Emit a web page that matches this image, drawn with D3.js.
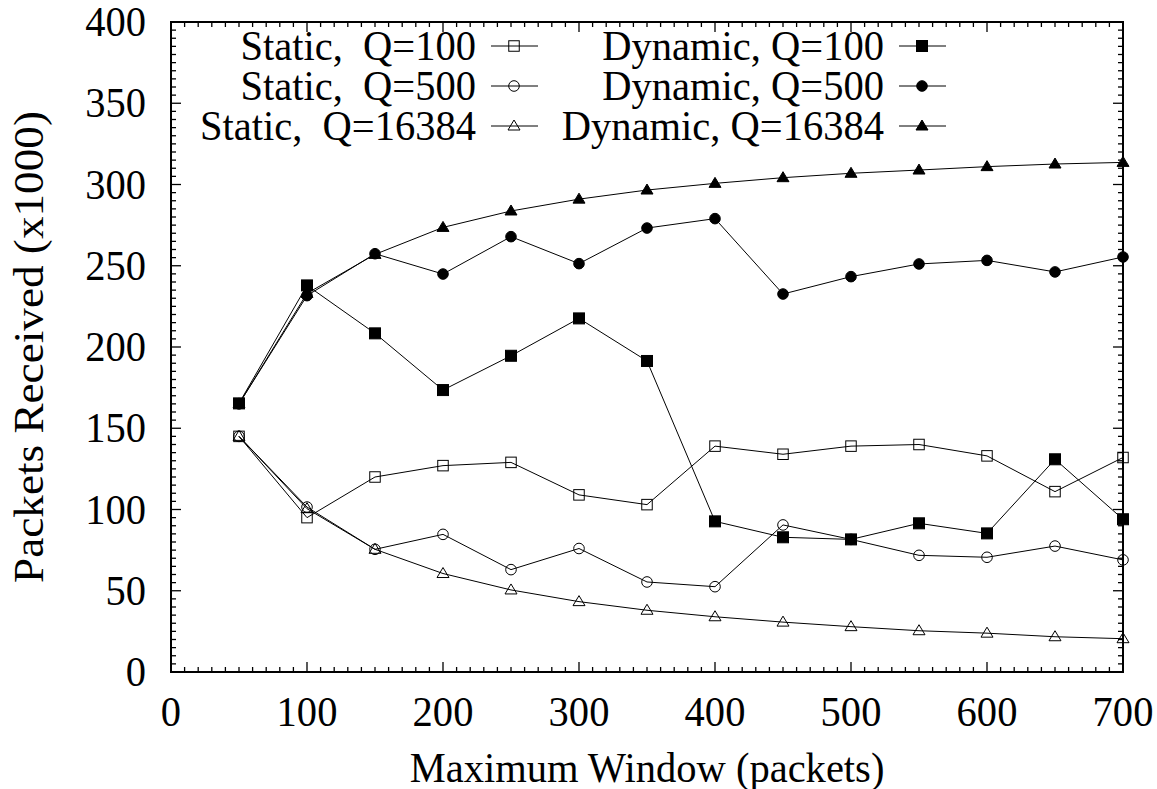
<!DOCTYPE html>
<html>
<head>
<meta charset="utf-8">
<script src="https://cdn.jsdelivr.net/npm/d3@7"></script>
<style>
  body { margin: 0; background: #fff; }
</style>
</head>
<body>
<div id="chart"></div>
<script>
// window sizes on the x axis
const windows = [50, 100, 150, 200, 250, 300, 350, 400, 450, 500, 550, 600, 650, 700];

// packets received (x1000)
const staticQ100 = [145, 95, 120, 127, 129, 109, 103, 139, 134, 139, 140, 133, 111, 132];
const staticQ500 = [145, 101.5, 75.5, 84.7, 63, 76, 55.4, 52.5, 90.5, 81.6, 71.8, 70.6, 77.5, 69];
const staticQ16384 = [145, 100.5, 75.5, 60.6, 50.5, 43.3, 38, 34, 30.7, 27.9, 25.4, 23.9, 21.7, 20.5];
const dynamicQ100 = [165.3, 237.9, 208.4, 173.5, 194.6, 217.6, 191.4, 92.7, 82.9, 81.6, 91.5, 85.3, 130.9, 94];
const dynamicQ500 = [165, 231.6, 257.4, 244.9, 267.9, 251.3, 273.2, 279, 232.6, 243.3, 251.1, 253.3, 246.2, 255.4];
const dynamicQ16384 = [165, 233, 257, 273.6, 283.7, 291, 296.6, 300.7, 304.2, 306.9, 308.9, 311, 312.6, 313.6];

const seriesNames = ["Static,  Q=100", "Static,  Q=500", "Static,  Q=16384",
                     "Dynamic, Q=100", "Dynamic, Q=500", "Dynamic, Q=16384"];
const seriesValues = [staticQ100, staticQ500, staticQ16384, dynamicQ100, dynamicQ500, dynamicQ16384];
const seriesMarks = ["square", "circle", "triangle", "square", "circle", "triangle"];
const seriesFilled = [false, false, false, true, true, true];

const xTicks = [0, 100, 200, 300, 400, 500, 600, 700];
const yTicks = [0, 50, 100, 150, 200, 250, 300, 350, 400];

var W = 1157, H = 789;
var margin = { top: 22, right: 34, bottom: 117, left: 171 };
var FS = 43;

// pick the first serif face that is really installed
function hasFont(name) {
    let ctx = document.createElement("canvas").getContext("2d");
    let s = "Maximum Window (packets) 0123456789";
    return ["monospace", "sans-serif"].some(base => {
        ctx.font = "40px " + base;
        let w0 = ctx.measureText(s).width;
        ctx.font = "40px '" + name + "', " + base;
        return ctx.measureText(s).width !== w0;
    });
}
var candidates = ["Liberation Serif", "Tinos", "Times New Roman", "Nimbus Roman", "Nimbus Roman No9 L",
                  "DejaVu Serif", "FreeSerif", "Noto Serif", "Noto Serif CJK SC", "Noto Serif CJK JP"];
var FONT = candidates.find(hasFont) || "Liberation Sans";
FONT = "'" + FONT + "', serif";

var svg = d3.select("#chart")
    .append("svg")
    .attr("width", W)
    .attr("height", H);

function naturalWidth(str) {
    let probe = svg.append("text").attr("font-family", FONT).attr("font-size", FS)
        .attr("xml:space", "preserve").text(str);
    let w = probe.node().getComputedTextLength();
    probe.remove();
    return w;
}

// horizontal squeeze so the x title spans as in the reference (~475px)
var SX = Math.min(1, 475 / naturalWidth("Maximum Window (packets)"));

var x = d3.scaleLinear().domain([0, 700]).range([margin.left, W - margin.right]);
var y = d3.scaleLinear().domain([0, 400]).range([H - margin.bottom, margin.top]);

var x0 = x.range()[0], x1 = x.range()[1];
var y0 = y.range()[0], y1 = y.range()[1];

// minor + major ticks, mirrored inward on all four sides
var ticks = svg.append("g").attr("stroke", "#000").attr("stroke-width", 1.3);
d3.range(0, 701, 10).forEach(v => {
    let len = v % 100 === 0 ? 10 : 5;
    ticks.append("line").attr("x1", x(v)).attr("x2", x(v)).attr("y1", y0).attr("y2", y0 - len);
    ticks.append("line").attr("x1", x(v)).attr("x2", x(v)).attr("y1", y1).attr("y2", y1 + len);
});
d3.range(0, 401, 5).forEach(v => {
    let len = v % 50 === 0 ? 10 : 5;
    ticks.append("line").attr("y1", y(v)).attr("y2", y(v)).attr("x1", x0).attr("x2", x0 + len);
    ticks.append("line").attr("y1", y(v)).attr("y2", y(v)).attr("x1", x1).attr("x2", x1 - len);
});

function label(g, tx, ty, str, anchor, rot, sx) {
    return g.append("text")
        .attr("transform", "translate(" + tx + "," + ty + ")" + (rot ? " rotate(" + rot + ")" : "") + " scale(" + (sx || SX) + ",1)")
        .attr("text-anchor", anchor)
        .attr("font-family", FONT)
        .attr("font-size", FS)
        .attr("fill", "#000")
        .attr("xml:space", "preserve")
        .style("white-space", "pre")
        .text(str);
}

var labels = svg.append("g");
xTicks.forEach(v => label(labels, x(v), 726, v, "middle"));
yTicks.forEach(v => label(labels, 146, y(v) + 14, v, "end"));
label(labels, (x0 + x1) / 2, 782, "Maximum Window (packets)", "middle");
var yTitle = "Packets Received (x1000)";
label(labels, 43, (y0 + y1) / 2, yTitle, "middle", -90, 472 / naturalWidth(yTitle));

// marker drawing
function drawMark(g, cx, cy, kind, filled) {
    let fill = filled ? "#000" : "none";
    if (kind === "square") {
        let s = filled ? 11 : 10.5;
        g.append("rect").attr("x", cx - s / 2).attr("y", cy - s / 2).attr("width", s).attr("height", s)
            .attr("fill", fill).attr("stroke", "#000").attr("stroke-width", 1);
    } else if (kind === "circle") {
        g.append("circle").attr("cx", cx).attr("cy", cy).attr("r", 5.3)
            .attr("fill", fill).attr("stroke", "#000").attr("stroke-width", 1);
    } else {
        let h = 10, w = 12;
        g.append("path")
            .attr("d", "M" + cx + "," + (cy - h * 0.6) + "L" + (cx + w / 2) + "," + (cy + h * 0.4) + "L" + (cx - w / 2) + "," + (cy + h * 0.4) + "Z")
            .attr("fill", fill).attr("stroke", "#000").attr("stroke-width", 1);
    }
}

var line = d3.line().x(d => x(d[0])).y(d => y(d[1]));

seriesValues.forEach((vals, i) => {
    let pts = windows.map((w, j) => [w, vals[j]]);
    let g = svg.append("g");
    g.append("path").attr("d", line(pts)).attr("fill", "none").attr("stroke", "#000").attr("stroke-width", 1);
    pts.forEach(p => drawMark(g, x(p[0]), y(p[1]), seriesMarks[i], seriesFilled[i]));
});

// legend: two columns of three rows
var legend = svg.append("g");
seriesNames.forEach((name, i) => {
    let col = Math.floor(i / 3), row = i % 3;
    let textEnd = col === 0 ? 476 : 884;
    let ly = 46 + row * 40;
    label(legend, textEnd, ly + 14, name, "end");
    legend.append("line").attr("x1", textEnd + 15).attr("x2", textEnd + 62)
        .attr("y1", ly).attr("y2", ly).attr("stroke", "#000").attr("stroke-width", 1);
    drawMark(legend, textEnd + 38, ly, seriesMarks[i], seriesFilled[i]);
});

// border
svg.append("rect")
    .attr("x", x0).attr("y", y1)
    .attr("width", x1 - x0).attr("height", y0 - y1)
    .attr("fill", "none").attr("stroke", "#000").attr("stroke-width", 2);
</script>
</body>
</html>
